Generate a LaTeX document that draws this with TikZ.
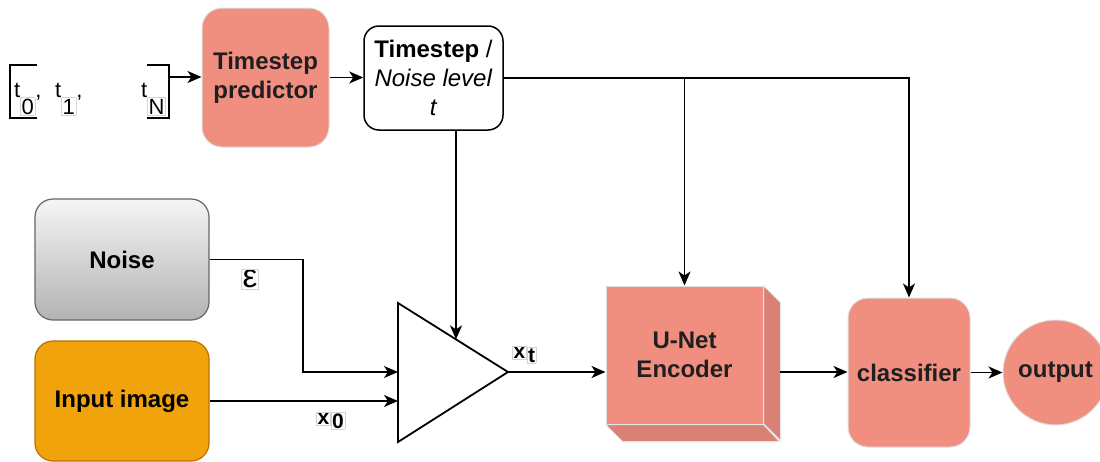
\documentclass[tikz,border=0pt]{standalone}
\usepackage{fontspec}
\setmainfont{Liberation Sans}
\usetikzlibrary{arrows.meta,calc}
\definecolor{salmon}{HTML}{F08E80}
\definecolor{salmondark}{HTML}{D98174}
\definecolor{amber}{HTML}{F0A30A}
\definecolor{amberline}{HTML}{BD7000}
\definecolor{noiseline}{HTML}{666666}
\definecolor{noisetop}{HTML}{F5F5F5}
\definecolor{noisebottom}{HTML}{B3B3B3}
\definecolor{labelbox}{HTML}{D4D4D4}
\definecolor{textdark}{HTML}{1F1F1F}
\newcommand{\subbox}[1]{{\setlength{\fboxsep}{0.8pt}\setlength{\fboxrule}{0.6pt}\fcolorbox{labelbox}{white}{#1}}}
\tikzset{
  base/.style={font=\fontsize{24}{29}\selectfont\bfseries, align=center, inner sep=0pt},
  block/.style={base, rounded corners=20pt, fill=salmon, draw=gray!25, line width=1pt, text=textdark},
  wire/.style={line width=1.8pt},
  arr/.style={wire, -{Stealth[length=14pt,width=12pt,inset=4pt]}},
  smalllbl/.style={inner sep=0pt, font=\fontsize{22}{22}\selectfont},
  varlbl/.style={inner sep=0pt, font=\fontsize{21}{21}\selectfont\bfseries},
}
\begin{document}
\begin{tikzpicture}[x=1pt,y=-1pt]
\useasboundingbox (0,0) rectangle (1100,461);

% blocks
\node[block, minimum width=127pt, minimum height=139pt] (tp) at (265.5,77.5) {Timestep\\predictor};
\node[base, draw, rounded corners=15pt, line width=1.5pt, minimum width=139pt, minimum height=104pt,
      font=\fontsize{24}{29}\selectfont] (ts) at (433.5,78) {\textbf{Timestep} /\\\textit{Noise level}\\\textit{t}};
\node[base, rounded corners=18pt, draw=noiseline, line width=1.2pt, top color=noisetop, bottom color=noisebottom,
      minimum width=174pt, minimum height=121pt] (noise) at (122,259.5) {Noise};
\node[base, rounded corners=18pt, draw=amberline, fill=amber, line width=1.2pt,
      minimum width=174pt, minimum height=120pt] (input) at (122,401) {Input image};

% U-Net encoder as a cuboid
\node[block, sharp corners, minimum width=157pt, minimum height=138pt] (unet) at (684.5,355) {U-Net\\Encoder};
\filldraw[fill=salmondark, draw=gray!20, line width=1pt] (unet.north east) -- ++(17,17) -- ++(0,138) -- ++(-17,-17) -- cycle;
\filldraw[fill=salmondark, draw=gray!20, line width=1pt] (unet.south west) -- ++(17,17) -- ++(157,0) -- (unet.south east) -- cycle;
\coordinate (uo) at (780,372);

\node[block, minimum width=122pt, minimum height=149pt] (cls) at (909,372.5) {classifier};
\node[block, sharp corners, circle, minimum size=105pt] (out) at (1055.5,372.5) {output};

% mixing stage
\coordinate (tritop) at (398,303);
\coordinate (tribot) at (398,442);
\coordinate (tritip) at (508,372);
\draw[wire, line join=miter] (tritop) -- (tritip) -- (tribot) -- cycle;
\coordinate (in1) at (398,372);
\coordinate (in3) at (456,339.4);
\coordinate (nb) at (303,300);

% timestep sequence in brackets
\draw[wire] (37,65) -- (10,65) -- (10,118) -- (37,118);
\draw[wire] (147,65) -- (169,65) -- (169,118) -- (147,118);
\coordinate (brk) at (169,77);
\node[smalllbl, anchor=base west] (t0) at (14,97) {t\raisebox{-17pt}{\subbox{0}},};
\node[smalllbl, anchor=base west] (t1) at (55,97) {t\raisebox{-17pt}{\subbox{1}},};
\node[smalllbl, anchor=base west] (tn) at (141,97) {t\raisebox{-17pt}{\subbox{N}}};

% connectors
\draw[arr] (brk) -- (brk -| tp.west);
\draw[arr] (tp.east) -- (tp.east -| ts.west);
\draw[arr] (ts.east) -| (cls.north);
\draw[arr] (ts.east -| unet.north) -- (unet.north);
\draw[arr] (ts.south -| in3) -- (in3);
\draw[arr] (noise.east) -| (nb) |- (in1);
\draw[arr] (input.east) -- (input.east -| tritop);
\draw[arr] (tritip) -- (tritip -| unet.west);
\draw[arr] (uo) -- (uo -| cls.west);
\draw[arr] (cls.east) -- (out.west);

% variable labels
\node[inner sep=0pt, font=\fontsize{33}{33}\selectfont] (eps) at (250,279) {\subbox{ε}};
\node[varlbl, anchor=base west] (x0) at (316,424) {\subbox{x}\raisebox{-4pt}{\subbox{0}}};
\node[varlbl, anchor=base west] (xt) at (512,358) {\subbox{x}\raisebox{-4pt}{\subbox{t}}};
\end{tikzpicture}
\end{document}
